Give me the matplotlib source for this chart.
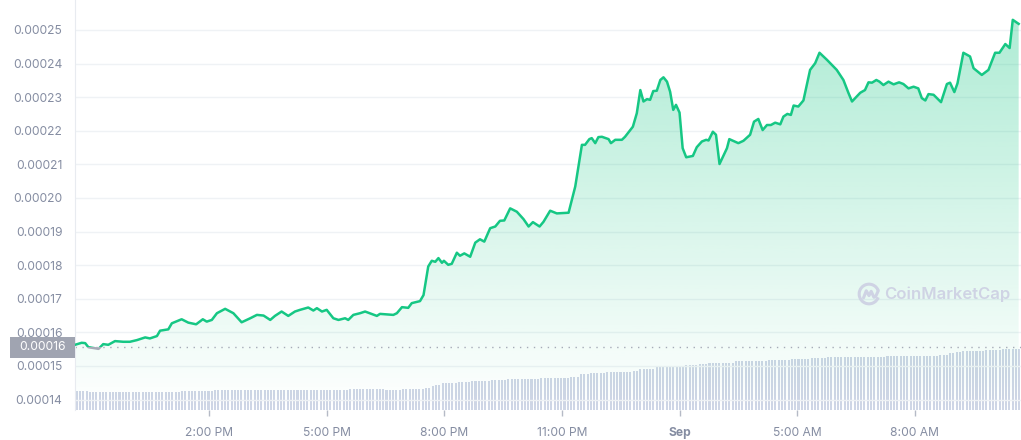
import matplotlib
matplotlib.use('Agg')
import matplotlib.pyplot as plt
import matplotlib.transforms as mtransforms
from matplotlib.patches import Polygon, Rectangle, Arc
import numpy as np

plt.rcParams['font.family'] = ['Inter', 'DejaVu Sans']

# price, hours since midnight Aug 31 (24 = midnight Sep 1), price in 1e-5
time_h = [10.58, 10.75, 10.84, 10.92, 11.18, 11.30, 11.43, 11.60, 11.81, 11.98,
          12.16, 12.37, 12.49, 12.67, 12.75, 12.96, 13.05, 13.30, 13.47, 13.67,
          13.84, 13.94, 14.07, 14.20, 14.41, 14.62, 14.83, 15.05, 15.22, 15.39,
          15.56, 15.68, 15.85, 16.02, 16.19, 16.32, 16.53, 16.66, 16.75, 16.88,
          17.00, 17.17, 17.30, 17.47, 17.55, 17.68, 17.85, 17.98, 18.28, 18.36,
          18.70, 18.79, 18.92, 19.08, 19.17, 19.38, 19.47, 19.59, 19.68, 19.77,
          19.85, 19.94, 19.99, 20.10, 20.19, 20.32, 20.40, 20.51, 20.66, 20.79,
          20.91, 21.02, 21.17, 21.30, 21.42, 21.53, 21.68, 21.85, 22.02, 22.15,
          22.26, 22.43, 22.53, 22.70, 22.87, 23.17, 23.34, 23.51, 23.59, 23.70,
          23.76, 23.85, 23.93, 24.02, 24.19, 24.25, 24.36, 24.53, 24.61, 24.81,
          24.91, 25.00, 25.08, 25.17, 25.25, 25.33, 25.42, 25.51, 25.59, 25.68,
          25.76, 25.84, 25.91, 26.00, 26.08, 26.17, 26.34, 26.44, 26.57, 26.68,
          26.74, 26.85, 26.93, 27.02, 27.21, 27.27, 27.50, 27.63, 27.80, 27.90,
          28.01, 28.12, 28.23, 28.33, 28.44, 28.57, 28.65, 28.75, 28.84, 28.91,
          29.03, 29.16, 29.33, 29.46, 29.57, 29.76, 30.01, 30.18, 30.31, 30.40,
          30.61, 30.73, 30.82, 30.91, 31.02, 31.10, 31.20, 31.33, 31.46, 31.60,
          31.71, 31.84, 31.97, 32.09, 32.18, 32.27, 32.35, 32.48, 32.67, 32.82,
          32.90, 33.01, 33.09, 33.24, 33.41, 33.50, 33.71, 33.88, 34.05, 34.16,
          34.31, 34.42, 34.50, 34.65]
price_e5 = [15.63, 15.69, 15.68, 15.56, 15.51, 15.65, 15.63, 15.74, 15.72, 15.72,
            15.77, 15.85, 15.82, 15.89, 16.05, 16.09, 16.27, 16.39, 16.29, 16.24,
            16.39, 16.32, 16.37, 16.57, 16.70, 16.57, 16.30, 16.42, 16.52, 16.50,
            16.37, 16.49, 16.62, 16.49, 16.62, 16.67, 16.74, 16.65, 16.72, 16.62,
            16.67, 16.42, 16.37, 16.42, 16.37, 16.52, 16.57, 16.62, 16.49, 16.55,
            16.52, 16.57, 16.75, 16.73, 16.87, 16.93, 17.11, 17.96, 18.13, 18.10,
            18.21, 18.07, 18.13, 18.01, 18.04, 18.37, 18.28, 18.35, 18.25, 18.67,
            18.77, 18.70, 19.10, 19.15, 19.32, 19.33, 19.69, 19.59, 19.37, 19.15,
            19.28, 19.15, 19.29, 19.62, 19.54, 19.56, 20.34, 21.58, 21.58, 21.75,
            21.78, 21.63, 21.81, 21.82, 21.75, 21.63, 21.73, 21.73, 21.82, 22.12,
            22.52, 23.21, 22.87, 22.94, 22.92, 23.18, 23.19, 23.51, 23.59, 23.46,
            23.16, 22.62, 22.77, 22.54, 21.48, 21.21, 21.25, 21.51, 21.68, 21.73,
            21.71, 21.97, 21.88, 21.01, 21.48, 21.75, 21.63, 21.70, 21.88, 22.27,
            22.35, 22.02, 22.17, 22.17, 22.24, 22.19, 22.42, 22.50, 22.47, 22.75,
            22.72, 22.90, 23.81, 24.01, 24.32, 24.11, 23.81, 23.51, 23.12, 22.87,
            23.13, 23.21, 23.44, 23.43, 23.51, 23.46, 23.36, 23.46, 23.38, 23.44,
            23.39, 23.26, 23.31, 23.26, 22.97, 22.90, 23.09, 23.07, 22.85, 23.39,
            23.43, 23.15, 23.41, 24.32, 24.21, 23.86, 23.66, 23.81, 24.32, 24.32,
            24.58, 24.46, 25.30, 25.18]

# volume (24h, millions) as runs of equal bars
vol_levels = [1.87, 1.77, 1.87, 1.97, 2.10, 1.97, 2.07, 2.20, 2.43, 2.55,
              2.67, 2.77, 2.87, 2.97, 3.07, 3.17, 3.33, 3.57, 3.67, 3.77,
              3.87, 4.13, 4.30, 4.40, 4.53, 4.65, 4.73, 4.87, 4.97, 5.07,
              5.17, 5.27, 5.33, 5.43, 5.53, 5.67, 5.77, 5.87, 5.97, 6.07]
vol_runs = [4, 28, 10, 41, 11, 5, 7, 2, 1, 2,
            5, 4, 6, 5, 10, 9, 3, 3, 5, 8,
            2, 5, 3, 6, 4, 3, 8, 10, 7, 6,
            5, 8, 10, 16, 3, 2, 2, 7, 5, 6]

tick_hours = [14, 17, 20, 23, 26, 29, 32]
tick_labels = ['2:00 PM', '5:00 PM', '8:00 PM', '11:00 PM', 'Sep', '5:00 AM', '8:00 AM']
y_ticks_e5 = [14, 15, 16, 17, 18, 19, 20, 21, 22, 23, 24, 25]
open_price_e5 = 15.55
open_label = '0.00016'

t = np.array(time_h)
p = np.array(price_e5) * 1e-5
vol = np.repeat(vol_levels, vol_runs)
open_price = open_price_e5 * 1e-5

t0, t1 = 10.58, 34.71
ybot, ytop = 13.69e-5, 25.89e-5
green = '#16c784'
label_col = '#858da2'

fig = plt.figure(figsize=(10.21, 4.40), dpi=100)
ax = fig.add_axes([75 / 1021, 30 / 440, 946 / 1021, 410 / 440])
ax2 = ax.twinx()
ax2.set_zorder(ax.get_zorder() - 1)
ax.patch.set_visible(False)

# volume bars
n = len(vol)
step = (t1 - t0) / n
bar_t = t0 + step * (np.arange(n) + 0.5)
ax2.bar(bar_t, vol, width=step * 0.62, color='#cfd6e6', linewidth=0)
ax2.set_ylim(0, 41)
ax2.set_yticks([])
for s in ax2.spines.values():
    s.set_visible(False)

# gradient fill under the price
grad = np.zeros((256, 1, 4))
grad[:, 0, :3] = matplotlib.colors.to_rgb(green)
grad[:, 0, 3] = np.linspace(0.36, 0.0, 256)
im = ax.imshow(grad, extent=[t0, t1, ybot, ytop], aspect='auto', origin='upper', zorder=1)
verts = [(t[0], ybot)] + list(zip(t, p)) + [(t[-1], ybot)]
poly = Polygon(verts, closed=True, facecolor='none', edgecolor='none')
ax.add_patch(poly)
im.set_clip_path(poly)

# price line, grey where below the open price
above = Rectangle((t0 - 1, open_price), t1 - t0 + 2, 1, transform=ax.transData)
below = Rectangle((t0 - 1, open_price - 1), t1 - t0 + 2, 1, transform=ax.transData)
ln1, = ax.plot(t, p, color=green, lw=1.8, zorder=3, solid_joinstyle='round')
ln1.set_clip_path(above)
ln2, = ax.plot(t, p, color='#a6abb8', lw=1.8, zorder=3, solid_joinstyle='round')
ln2.set_clip_path(below)

ax.axhline(open_price, color='#a6abb8', lw=1, linestyle=(0, (1, 4)), zorder=2)

# open price tag
blend = mtransforms.blended_transform_factory(fig.transFigure, ax.transData)
tag = Rectangle((10 / 1021, open_price - 0.3125e-5), 65 / 1021, 0.625e-5,
                transform=blend, facecolor='#a0a4b1', edgecolor='none', clip_on=False, zorder=5)
ax.add_patch(tag)
ax.text(42.5 / 1021, open_price, open_label, transform=blend, ha='center', va='center',
        color='white', fontsize=8.7, zorder=6, clip_on=False)

ax.set_xlim(t0, t1)
ax.set_ylim(ybot, ytop)
ax.set_yticks([v * 1e-5 for v in y_ticks_e5])
ax.set_yticklabels(['%.5f' % (v * 1e-5) for v in y_ticks_e5])
ax.set_xticks(tick_hours)
ax.set_xticklabels(tick_labels)
for lab in ax.get_xticklabels():
    if lab.get_text() == 'Sep':
        lab.set_fontweight('bold')
ax.tick_params(axis='y', length=0, pad=9, labelsize=8.7, labelcolor=label_col)
ax.tick_params(axis='x', length=4, width=1, color='#b5bac6', pad=8, labelsize=8.7,
               labelcolor=label_col, direction='out')
ax.grid(axis='y', color='#eff2f5', lw=1)
ax.set_axisbelow(True)
for k in ['top', 'right', 'bottom']:
    ax.spines[k].set_visible(False)
ax.spines['left'].set_color('#e8ebf0')

# watermark
wm = '#cfd3e4'
fig.text(884 / 1021, (440 - 294) / 440, 'CoinMarketCap', ha='left', va='center',
         fontsize=12, fontweight='semibold', color=wm)
lax = fig.add_axes([(869 - 12) / 1021, (440 - 294 - 12) / 440, 24 / 1021, 24 / 440])
lax.set_xlim(-1.1, 1.1)
lax.set_ylim(-1.1, 1.1)
lax.axis('off')
lax.add_patch(Arc((0, 0), 1.8, 1.8, theta1=20, theta2=340, color=wm, lw=2.2))
lax.plot([-0.5, -0.25, 0.0, 0.2, 0.45, 0.6, 0.85], [-0.35, 0.3, -0.15, 0.25, -0.3, -0.25, 0.3],
         color=wm, lw=2.2, solid_joinstyle='round', solid_capstyle='round')

fig.savefig('out.png', dpi=100)
